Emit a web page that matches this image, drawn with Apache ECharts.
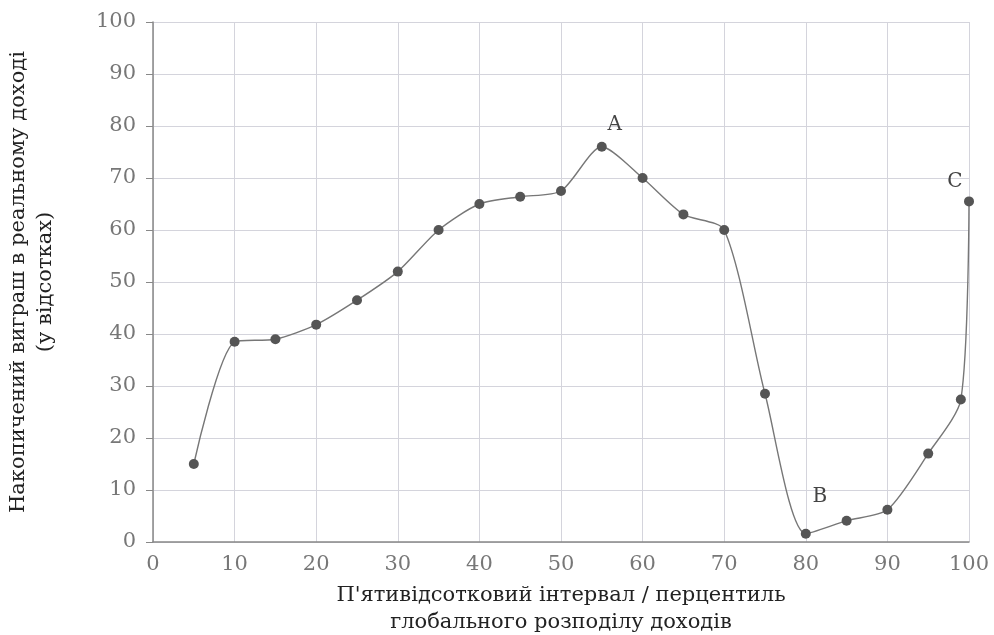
<!DOCTYPE html>
<html>
<head>
<meta charset="utf-8">
<script src="https://cdn.jsdelivr.net/npm/echarts@6/dist/echarts.min.js"></script>
<style>
html,body{margin:0;padding:0;background:#fff;}
#chart{width:994px;height:635px;}
</style>
</head>
<body>
<div id="chart"></div>
<script>
// Percentile (x) and cumulative real income gain in % (y)
var percentiles = [5, 10, 15, 20, 25, 30, 35, 40, 45, 50, 55, 60, 65, 70, 75, 80, 85, 90, 95, 99, 100];
var gains = [15, 38.5, 39, 41.8, 46.5, 52, 60, 65, 66.4, 67.5, 76, 70, 63, 60, 28.5, 1.6, 4.1, 6.2, 17, 27.4, 65.5];
// Annotated points: percentile -> letter
var annotationAt = [55, 80, 100];
var annotationText = ['A', 'B', 'C'];
var xTicks = [0, 10, 20, 30, 40, 50, 60, 70, 80, 90, 100];
var yTicks = [0, 10, 20, 30, 40, 50, 60, 70, 80, 90, 100];

var labelOffsets = { 'A': [13, -2], 'B': [14, -17], 'C': [-14, 0] };

var seriesData = percentiles.map(function (p, i) {
  var item = { value: [p, gains[i]] };
  var k = annotationAt.indexOf(p);
  if (k >= 0) {
    var t = annotationText[k];
    item.label = {
      show: true,
      formatter: t,
      position: 'top',
      offset: labelOffsets[t],
      fontFamily: 'DejaVu Serif',
      fontSize: 20,
      color: '#444'
    };
  }
  return item;
});

var serif = 'DejaVu Serif';
var chart = echarts.init(document.getElementById('chart'));
chart.setOption({
  animation: false,
  backgroundColor: '#fff',
  grid: { left: 153, right: 25, top: 22, bottom: 93, containLabel: false, outerBoundsMode: 'none' },
  xAxis: {
    type: 'value',
    min: xTicks[0], max: xTicks[xTicks.length - 1], interval: 10,
    name: "П'ятивідсотковий інтервал / перцентиль\nглобального розподілу доходів",
    nameLocation: 'middle',
    nameGap: 40,
    nameTextStyle: { fontFamily: serif, fontSize: 21, color: '#222', lineHeight: 27 },
    axisLine: { show: true, lineStyle: { color: '#888', width: 1.5 } },
    axisTick: { show: false },
    axisLabel: { fontFamily: serif, fontSize: 21, color: '#777', margin: 12 },
    splitLine: { show: true, lineStyle: { color: '#d4d4dc', width: 1 } }
  },
  yAxis: {
    type: 'value',
    min: yTicks[0], max: yTicks[yTicks.length - 1], interval: 10,
    name: "Накопичений виграш в реальному доході\n(у відсотках)",
    nameLocation: 'middle',
    nameGap: 94,
    nameTextStyle: { fontFamily: serif, fontSize: 21, color: '#222', lineHeight: 27 },
    axisLine: { show: true, lineStyle: { color: '#888', width: 1.5 } },
    axisTick: { show: true, length: 7, lineStyle: { color: '#888' } },
    axisLabel: { fontFamily: serif, fontSize: 21, color: '#777', margin: 17 },
    splitLine: { show: true, lineStyle: { color: '#d4d4dc', width: 1 } }
  },
  series: [{
    type: 'line',
    data: seriesData,
    smooth: 0.25,
    symbol: 'circle',
    symbolSize: 10,
    showAllSymbol: true,
    clip: true,
    itemStyle: { color: '#555' },
    lineStyle: { color: '#777', width: 1.4 }
  }]
});
</script>
</body>
</html>
